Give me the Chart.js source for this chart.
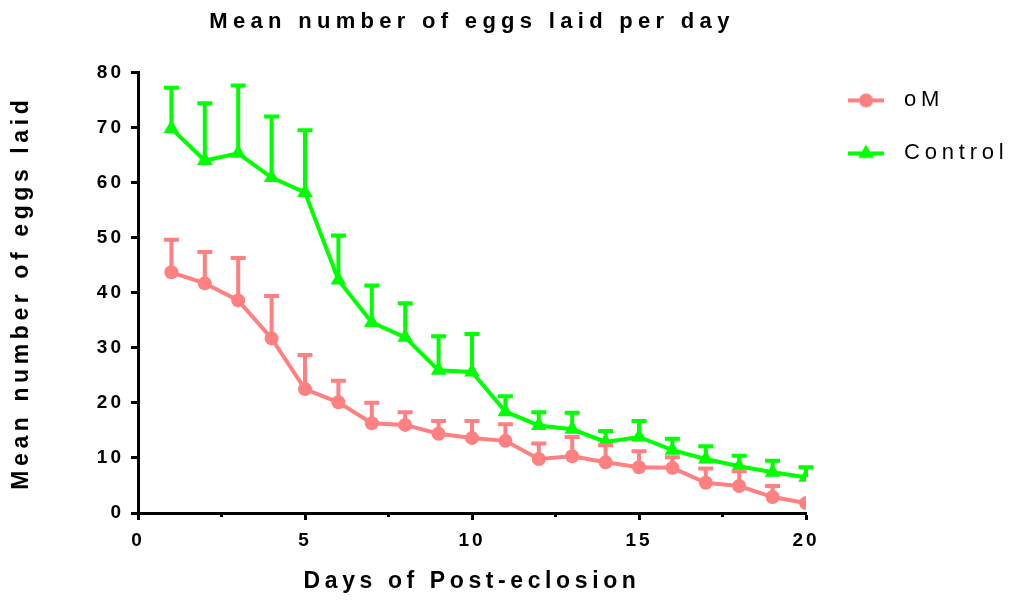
<!DOCTYPE html>
<html>
<head>
<meta charset="utf-8">
<title>Mean number of eggs laid per day</title>
<script src="https://cdn.jsdelivr.net/npm/chart.js@4.4.1/dist/chart.umd.min.js"></script>
<style>
  html, body { margin: 0; padding: 0; background: #fff; }
  #wrap { width: 1010px; height: 601px; }
</style>
</head>
<body>
<div id="wrap"><canvas id="chart" width="1010" height="601"></canvas></div>
<script>
// Days after eclosion
const days = [1, 2, 3, 4, 5, 6, 7, 8, 9, 10, 11, 12, 13, 14, 15, 16, 17, 18, 19, 20];

// oM: mean eggs per day and SEM (upper bar only)
const omMean = [43.7, 41.7, 38.6, 31.7, 22.5, 20.1, 16.3, 16.0, 14.4, 13.6, 13.1, 9.8, 10.3, 9.2, 8.3, 8.2, 5.5, 4.9, 2.9, 1.8];
const omSem  = [5.9, 5.7, 7.7, 7.7, 6.2, 3.9, 3.7, 2.3, 2.3, 3.1, 3.0, 2.8, 3.5, 3.1, 2.9, 1.9, 2.6, 2.7, 2.0, 0];

// Control: mean eggs per day and SEM (upper bar only)
const ctrlMean = [69.8, 64.0, 65.3, 60.9, 58.2, 42.3, 34.6, 31.9, 25.9, 25.6, 18.4, 15.9, 15.2, 12.9, 13.8, 11.4, 9.8, 8.5, 7.4, 6.5];
const ctrlSem  = [7.4, 10.4, 12.3, 11.1, 11.3, 8.1, 6.7, 6.2, 6.2, 6.9, 2.8, 2.4, 3.0, 2.0, 2.9, 2.1, 2.3, 1.9, 2.1, 1.8];

const seriesNames = ['oM', 'Control'];
const xTicks = [0, 5, 10, 15, 20];
const yTicks = [0, 10, 20, 30, 40, 50, 60, 70, 80];

const OM_COLOR = '#FF8080';
const CTRL_COLOR = '#00FF00';

// Letter spacing (px) per font weight + size, applied to all canvas text
const SPACING = { b22: 5.3, b19: 3, b23: 4.6, r22: 4.8 };
function spacingFor(font) {
  const m = /(\d+(?:\.\d+)?)px/.exec(font);
  if (!m) return 0;
  const key = (/bold/.test(font) ? 'b' : 'r') + Math.round(+m[1]);
  return SPACING[key] || 0;
}

const letterSpacing = {
  id: 'letterSpacing',
  beforeInit(chart) {
    const ctx = chart.ctx;
    const fill = ctx.fillText;
    const measure = ctx.measureText;
    ctx.fillText = function (t, x, y, w) {
      this.letterSpacing = spacingFor(this.font) + 'px';
      return w === undefined ? fill.call(this, t, x, y) : fill.call(this, t, x, y, w);
    };
    ctx.measureText = function (t) {
      this.letterSpacing = spacingFor(this.font) + 'px';
      return measure.call(this, t);
    };
  }
};

// Upward SEM bars with a flat cap, drawn under each series' line
const errorBars = {
  id: 'errorBars',
  beforeDatasetDraw(chart, args) {
    const ds = chart.data.datasets[args.index];
    if (!ds.errors) return;
    const yScale = chart.scales.y;
    const ctx = chart.ctx;
    const half = 7.5;
    ctx.save();
    ctx.strokeStyle = ds.borderColor;
    ctx.lineWidth = 4;
    ctx.lineCap = 'butt';
    args.meta.data.forEach((pt, i) => {
      if (!(ds.errors[i] > 0)) return;
      const v = ds.data[i].y;
      const top = yScale.getPixelForValue(v + ds.errors[i]);
      const base = yScale.getPixelForValue(v);
      ctx.beginPath();
      ctx.moveTo(pt.x, base);
      ctx.lineTo(pt.x, top);
      ctx.moveTo(pt.x - half, top);
      ctx.lineTo(pt.x + half, top);
      ctx.stroke();
    });
    ctx.restore();
  }
};

// Short minor ticks halfway between the labelled x ticks
const minorTicks = {
  id: 'minorTicks',
  afterDraw(chart) {
    const xs = chart.scales.x;
    const ctx = chart.ctx;
    ctx.save();
    ctx.strokeStyle = '#000';
    ctx.lineWidth = 3;
    for (let i = 0; i < xs.ticks.length - 1; i++) {
      const mid = (xs.ticks[i].value + xs.ticks[i + 1].value) / 2;
      const px = xs.getPixelForValue(mid);
      ctx.beginPath();
      ctx.moveTo(px, xs.top);
      ctx.lineTo(px, xs.top + 4);
      ctx.stroke();
    }
    ctx.restore();
  }
};

// Legend icon: a short line with the series marker in the middle
function legendIcon(color, style) {
  const c = document.createElement('canvas');
  c.width = 70; c.height = 22;
  const g = c.getContext('2d');
  g.strokeStyle = color; g.fillStyle = color; g.lineWidth = 4;
  g.beginPath(); g.moveTo(25, 11); g.lineTo(61, 11); g.stroke();
  g.beginPath();
  if (style === 'circle') {
    g.arc(43, 11, 7, 0, Math.PI * 2);
  } else {
    const r = 9;
    g.moveTo(43, 11 - r);
    g.lineTo(43 + r * Math.sin(Math.PI * 2 / 3), 11 - r * Math.cos(Math.PI * 2 / 3));
    g.lineTo(43 - r * Math.sin(Math.PI * 2 / 3), 11 - r * Math.cos(Math.PI * 2 / 3));
    g.closePath();
  }
  g.fill();
  return c;
}

Chart.defaults.font.family = "'Liberation Sans', Arial, sans-serif";
Chart.defaults.color = '#000';

const toPoints = (vals) => days.map((d, i) => ({ x: d, y: vals[i] }));

new Chart(document.getElementById('chart'), {
  type: 'line',
  data: {
    datasets: [
      {
        label: seriesNames[0],
        data: toPoints(omMean),
        errors: omSem,
        borderColor: OM_COLOR,
        backgroundColor: OM_COLOR,
        borderWidth: 4,
        pointStyle: 'circle',
        pointRadius: 7,
        pointBorderWidth: 0,
        tension: 0,
        iconStyle: 'circle'
      },
      {
        label: seriesNames[1],
        data: toPoints(ctrlMean),
        errors: ctrlSem,
        borderColor: CTRL_COLOR,
        backgroundColor: CTRL_COLOR,
        borderWidth: 4,
        pointStyle: 'triangle',
        pointRadius: 9,
        pointBorderWidth: 0,
        tension: 0,
        iconStyle: 'triangle'
      }
    ]
  },
  options: {
    responsive: false,
    animation: false,
    devicePixelRatio: 1,
    layout: { padding: 0 },
    scales: {
      x: {
        type: 'linear',
        min: 0,
        max: 20,
        afterBuildTicks(scale) { scale.ticks = xTicks.map(v => ({ value: v })); },
        afterFit(scale) { scale.height = 88; },
        border: { color: '#000', width: 3 },
        grid: { drawOnChartArea: false, drawTicks: true, tickLength: 7, tickWidth: 3, tickColor: '#000' },
        ticks: { font: { size: 19, weight: 'bold' }, padding: 9, maxRotation: 0 },
        title: {
          display: true,
          text: 'Days of Post-eclosion',
          font: { size: 23, weight: 'bold' },
          padding: { top: 0, bottom: 6 }
        }
      },
      y: {
        type: 'linear',
        min: 0,
        max: 80,
        afterBuildTicks(scale) { scale.ticks = yTicks.map(v => ({ value: v })); },
        afterFit(scale) { scale.width = 138; },
        border: { color: '#000', width: 3 },
        grid: { drawOnChartArea: false, drawTicks: true, tickLength: 7, tickWidth: 3, tickColor: '#000' },
        ticks: { font: { size: 19, weight: 'bold' }, padding: 7 },
        title: {
          display: true,
          text: 'Mean number of eggs laid',
          font: { size: 23, weight: 'bold' },
          padding: { top: 8, bottom: 0 }
        }
      }
    },
    plugins: {
      title: {
        display: true,
        text: 'Mean number of eggs laid per day',
        font: { size: 22, weight: 'bold' },
        color: '#000',
        fullSize: false,
        padding: { top: 9, bottom: 37 }
      },
      legend: {
        display: true,
        position: 'right',
        align: 'start',
        fullSize: false,
        maxWidth: 204,
        labels: {
          usePointStyle: true,
          pointStyleWidth: 70,
          padding: 17,
          color: '#000',
          font: { size: 22, lineHeight: '36px' },
          generateLabels(chart) {
            return chart.data.datasets.map((ds, i) => ({
              text: [ds.label],
              pointStyle: legendIcon(ds.borderColor, ds.iconStyle),
              fillStyle: ds.borderColor,
              strokeStyle: ds.borderColor,
              lineWidth: 0,
              hidden: false,
              datasetIndex: i
            }));
          }
        }
      },
      tooltip: { enabled: false }
    }
  },
  plugins: [letterSpacing, errorBars, minorTicks]
});
</script>
</body>
</html>
